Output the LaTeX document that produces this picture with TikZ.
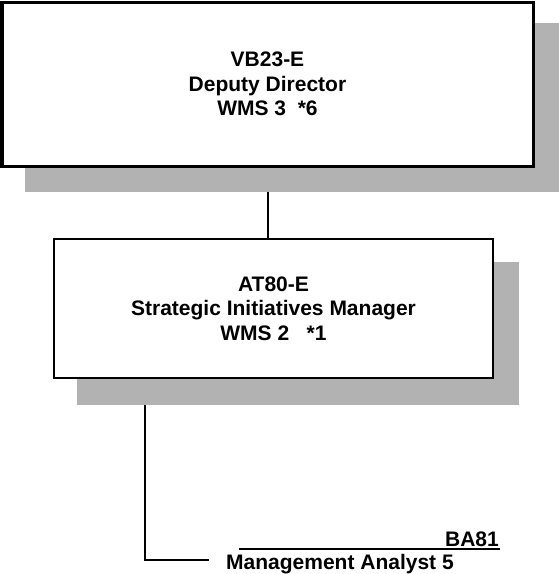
\documentclass[tikz,border=0pt]{standalone}
\usepackage{fontspec}
\setmainfont{Liberation Sans}
\usetikzlibrary{backgrounds}
\begin{document}
\begin{tikzpicture}[x=1pt,y=-1pt,
  orgtext/.style={font=\bfseries\fontsize{21}{24.5}\selectfont},
  orgbox/.style={draw=black, fill=white, rectangle, inner sep=0pt, outer sep=0pt,
    align=center, orgtext},
  boxshadow/.style={fill=black!30},
  link/.style={draw=black, line width=2pt},
]
\useasboundingbox (0,0) rectangle (558,574);

% position boxes
\node[orgbox, line width=3pt, minimum width=531pt, minimum height=164pt]
  (director) at (267.5,84) {VB23-E\\Deputy Director\\WMS 3~~*6};
\node[orgbox, line width=2.5pt, minimum width=439pt, minimum height=139pt]
  (manager) at (273.5,308.5) {AT80-E\\Strategic Initiatives Manager\\WMS 2~~~*1};

% vacant position entry
\node[orgtext, anchor=base east, inner sep=0pt] (code) at (499,546) {BA81};
\node[orgtext, anchor=base west, inner sep=0pt] (title) at (226,569) {Management Analyst 5};
\coordinate (ruleL) at (239,549);
\coordinate (ruleR) at (500,549);
\draw[line width=2pt] (ruleL) -- (ruleR);

\coordinate (elbow) at (145,560);
\coordinate (stub) at (209,560);

\begin{scope}[on background layer]
  \draw[link] (director.south) -- (director.south |- manager.north);
  \draw[link] (manager.south -| elbow) -- (elbow) -- (stub);
  \fill[boxshadow] (25,23) rectangle (560,191.5);
  \fill[boxshadow] (77,262) rectangle (519,405);
\end{scope}
\end{tikzpicture}
\end{document}
